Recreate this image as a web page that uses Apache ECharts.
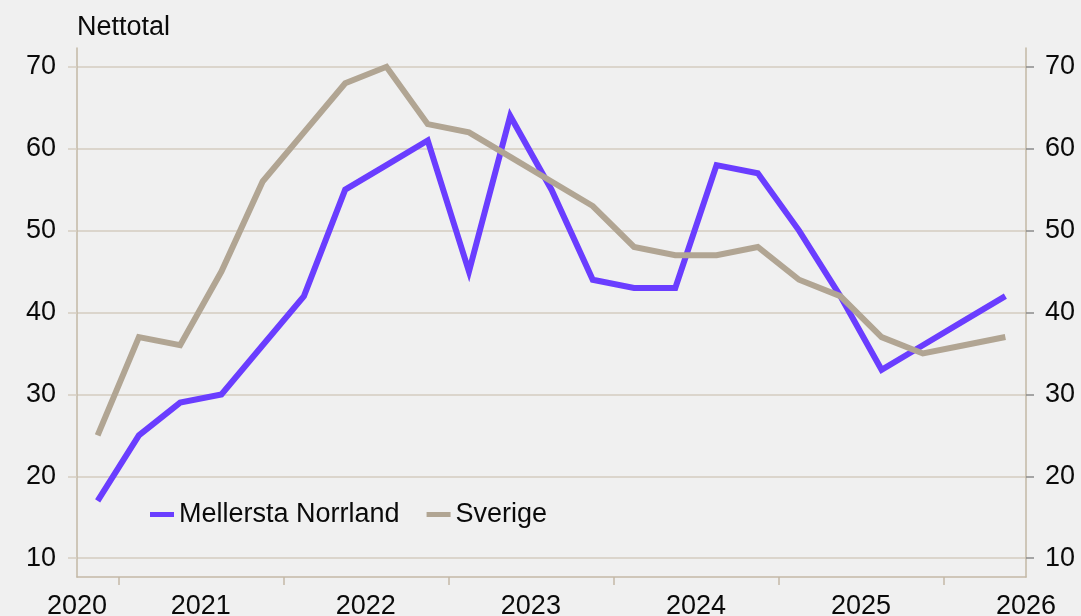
<!DOCTYPE html>
<html>
<head>
<meta charset="utf-8">
<script src="https://cdn.jsdelivr.net/npm/echarts@6/dist/echarts.min.js"></script>
<style>
html, body { margin: 0; padding: 0; background: #f0f0f0; }
#chart { width: 1081px; height: 616px; }
</style>
</head>
<body>
<div id="chart"></div>
<script>
// kvartal, 2020 Q4 - 2026 Q2
const quarters = ['2020 K4',
    '2021 K1', '2021 K2', '2021 K3', '2021 K4',
    '2022 K1', '2022 K2', '2022 K3', '2022 K4',
    '2023 K1', '2023 K2', '2023 K3', '2023 K4',
    '2024 K1', '2024 K2', '2024 K3', '2024 K4',
    '2025 K1', '2025 K2', '2025 K3', '2025 K4',
    '2026 K1', '2026 K2']
const mellerstaNorrland = [17, 25, 29, 30, 36, 42, 55, 58, 61, 45, 64, 55, 44, 43, 43, 58, 57, 50, 42, 33, 36, 39, 42]
const sverige = [25, 37, 36, 45, 56, 62, 68, 70, 63, 62, 59, 56, 53, 48, 47, 47, 48, 44, 42, 37, 35, 36, 37]
const years = ['2020', '2021', '2022', '2023', '2024', '2025', '2026']
const yTicks = [10, 20, 30, 40, 50, 60, 70]

const gridColor = '#d5cdc1'
const axisColor = '#c3b8a6'
const textColor = '#0a0a0a'
const font = 'Liberation Sans, Arial, Helvetica, sans-serif'
const fs = 27

// year labels centred on their four quarters, ticks at year boundaries (band edges)
const n = quarters.length
const yearPos = {}
const yearTicks = []
years.forEach(y => {
    const first = quarters.findIndex(q => q.startsWith(y))
    const qNum = parseInt(quarters[first].slice(-1))
    const q1 = first - (qNum - 1)
    const pos = Math.min(n, Math.max(0, q1 + 2))
    yearPos[pos] = y
    if (first > 0) yearTicks.push(first)
})

const myChart = echarts.init(document.getElementById('chart'))
const option = {
    backgroundColor: '#f0f0f0',
    animation: false,
    textStyle: { fontFamily: font },
    title: {
        text: 'Nettotal',
        left: 72,
        top: 9,
        textStyle: { fontSize: fs, fontWeight: 'normal', color: textColor, fontFamily: font }
    },
    legend: {
        data: ['Mellersta Norrland', 'Sverige'],
        left: 150,
        top: 501,
        padding: 0,
        icon: 'rect',
        itemWidth: 24,
        itemHeight: 5,
        itemGap: 27,
        textStyle: { fontSize: fs, color: textColor, fontFamily: font }
    },
    grid: { left: 77, right: 55, top: 48, bottom: 39, containLabel: false, outerBoundsMode: 'none' },
    xAxis: [
        {
            type: 'category',
            data: quarters,
            boundaryGap: true,
            show: false
        },
        {
            type: 'value',
            min: 0,
            max: n,
            position: 'bottom',
            axisLine: { show: true, lineStyle: { color: axisColor, width: 1.5 } },
            axisTick: { show: true, customValues: yearTicks, length: 8, lineStyle: { color: axisColor, width: 1.5 } },
            axisLabel: {
                customValues: Object.keys(yearPos).map(Number),
                formatter: v => yearPos[v] || '',
                fontSize: fs, color: textColor, margin: 16, fontFamily: font
            },
            splitLine: { show: false }
        }
    ],
    yAxis: [
        {
            type: 'value',
            min: 7.7,
            max: 72.3,
            position: 'left',
            axisLine: { show: true, lineStyle: { color: axisColor, width: 1.5 } },
            axisTick: { show: true, customValues: yTicks, length: 9, lineStyle: { color: gridColor, width: 1.5 } },
            axisLabel: { customValues: yTicks, fontSize: fs, color: textColor, margin: 21, fontFamily: font },
            splitLine: { show: true, lineStyle: { color: gridColor, width: 1.5 } }
        },
        {
            type: 'value',
            min: 7.7,
            max: 72.3,
            position: 'right',
            axisLine: { show: true, lineStyle: { color: axisColor, width: 1.5 } },
            axisTick: { show: true, customValues: yTicks, length: 8, lineStyle: { color: '#8a8a8a', width: 1.5 } },
            axisLabel: { customValues: yTicks, fontSize: fs, color: textColor, margin: 19, fontFamily: font },
            splitLine: { show: false }
        }
    ],
    series: [
        {
            name: 'Mellersta Norrland',
            type: 'line',
            xAxisIndex: 0,
            yAxisIndex: 0,
            data: mellerstaNorrland,
            symbol: 'none',
            itemStyle: { color: '#6a3dff' },
            lineStyle: { color: '#6a3dff', width: 6, join: 'miter' }
        },
        {
            name: 'Sverige',
            type: 'line',
            xAxisIndex: 0,
            yAxisIndex: 0,
            data: sverige,
            symbol: 'none',
            itemStyle: { color: '#b1a593' },
            lineStyle: { color: '#b1a593', width: 6, join: 'miter' }
        }
    ]
}
myChart.setOption(option)
</script>
</body>
</html>
